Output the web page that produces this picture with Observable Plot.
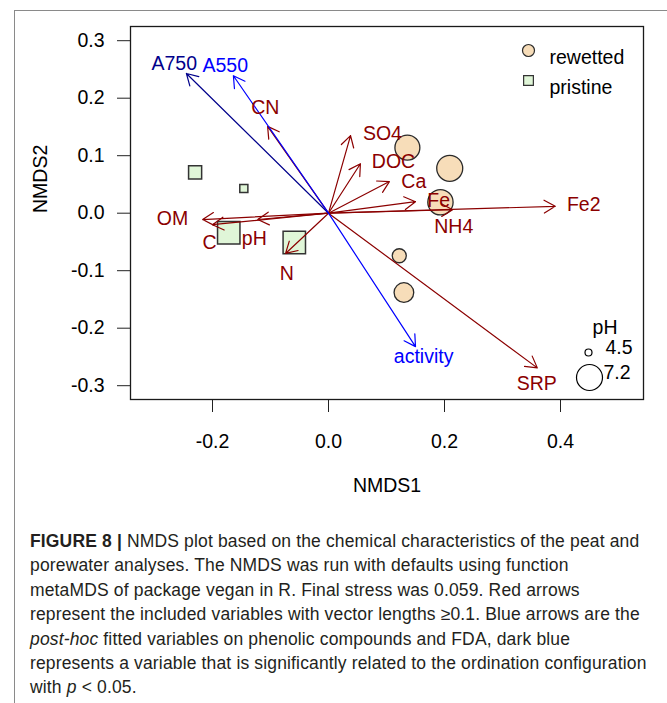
<!DOCTYPE html>
<html><head><meta charset="utf-8">
<script src="https://cdn.jsdelivr.net/npm/d3@7"></script>
<script src="https://cdn.jsdelivr.net/npm/@observablehq/plot@0.6"></script>
<style>
body{margin:0;background:#fff;font-family:"Liberation Sans",Arial,sans-serif;}
#wrap{position:relative;width:667px;height:703px;overflow:hidden;background:#fff;}
#box{position:absolute;left:14px;top:10px;width:700px;height:800px;border-left:1px solid #8a8a8a;border-top:1px solid #8a8a8a;}
#chart{position:absolute;left:0;top:0;}
#caption{position:absolute;left:30px;top:529px;font-size:17.5px;letter-spacing:0.15px;line-height:24.4px;color:#231f20;white-space:nowrap;}
</style></head>
<body><div id="wrap"><div id="box"></div><div id="chart"></div>
<div id="caption"><b>FIGURE 8 |</b> NMDS plot based on the chemical characteristics of the peat and<br>porewater analyses. The NMDS was run with defaults using function<br>metaMDS of package vegan in R. Final stress was 0.059. Red arrows<br>represent the included variables with vector lengths ≥0.1. Blue arrows are the<br><i>post-hoc</i> fitted variables on phenolic compounds and FDA, dark blue<br>represents a variable that is significantly related to the ordination configuration<br>with <i>p</i> &lt; 0.05.</div>
</div>
<script>
// Site scores (NMDS1, NMDS2), group and pH
const siteGroup = ["rewetted","rewetted","rewetted","rewetted","rewetted","pristine","pristine","pristine","pristine"];
const siteX = [0.136, 0.209, 0.193, 0.122, 0.130, -0.230, -0.146, -0.172, -0.059];
const siteY = [0.114, 0.078, 0.019, -0.074, -0.138, 0.071, 0.043, -0.034, -0.051];
const sitePH = [7.05, 7.2, 7.1, 5.5, 6.3, 5.6, 4.8, 7.1, 7.1];

// Fitted vectors
const vecName = ["CN","SO4","DOC","Ca","Fe","Fe2","NH4","OM","C","pH","N","SRP","A750","A550","activity"];
const vecType = ["chem","chem","chem","chem","chem","chem","chem","chem","chem","chem","chem","chem","sig","fit","fit"];
const vecX = [-0.105, 0.038, 0.055, 0.105, 0.150, 0.391, 0.214, -0.217, -0.200, -0.122, -0.074, 0.360, -0.245, -0.164, 0.150];
const vecY = [0.151, 0.135, 0.086, 0.055, 0.020, 0.012, 0.006, -0.011, -0.020, -0.011, -0.070, -0.269, 0.243, 0.239, -0.232];
const labX = [-0.109, 0.093, 0.112, 0.147, 0.190, 0.440, 0.216, -0.269, -0.205, -0.128, -0.072, 0.359, -0.266, -0.178, 0.164];
const labY = [0.184, 0.139, 0.090, 0.055, 0.022, 0.015, -0.023, -0.009, -0.051, -0.044, -0.105, -0.296, 0.260, 0.257, -0.249];

const xTicks = [-0.2, 0.0, 0.2, 0.4];
const yTicks = [-0.3, -0.2, -0.1, 0.0, 0.1, 0.2, 0.3];
const legendGroups = ["rewetted", "pristine"];
const legendPH = [4.5, 7.2];

const sites = siteX.map((x, i) => ({x, y: siteY[i], group: siteGroup[i], pH: sitePH[i]}));
const vectors = vecName.map((name, i) => ({name, type: vecType[i], x: vecX[i], y: vecY[i], lx: labX[i], ly: labY[i]}));
const colors = {chem: "#8B0000", sig: "#00008B", fit: "#0000FF"};
const fillRew = "#F7DDB9", fillPri = "#E0F6D8";
const fs = 19.5;

const arrowMarks = [], labelMarks = [];
for (const t of ["chem", "sig", "fit"]) {
  const dv = vectors.filter(d => d.type === t);
  arrowMarks.push(Plot.arrow(dv, {x1: () => 0, y1: () => 0, x2: "x", y2: "y", stroke: colors[t], strokeWidth: 1.2, headLength: 16, headAngle: 60}));
  labelMarks.push(Plot.text(dv, {x: "lx", y: "ly", text: "name", fill: colors[t], fontSize: fs}));
}

const chart = Plot.plot({
  width: 667, height: 520,
  marginLeft: 130, marginRight: 24, marginTop: 26, marginBottom: 121,
  style: {fontFamily: "Liberation Sans, Arial, sans-serif", fontSize: fs + "px", color: "#000", background: "transparent"},
  x: {domain: [-0.3414, 0.5431]},
  y: {domain: [-0.324, 0.3247]},
  r: {type: "linear", domain: [4.5, 7.2], range: [3.5, 13]},
  marks: [
    Plot.axisX(xTicks, {tickSize: 13, tickPadding: 22, tickFormat: d => d.toFixed(1), fontSize: fs, label: null, stroke: "#222"}),
    Plot.axisY(yTicks, {tickSize: 13, tickPadding: 13, tickFormat: d => d.toFixed(1), fontSize: fs, label: null, stroke: "#222"}),
    Plot.dot(sites.filter(d => d.group === "rewetted"), {x: "x", y: "y", r: "pH", symbol: "circle", fill: fillRew, stroke: "#2a2a2a", strokeWidth: 1.3}),
    Plot.dot(sites.filter(d => d.group === "pristine"), {x: "x", y: "y", r: "pH", symbol: "square", fill: fillPri, stroke: "#333", strokeWidth: 1.5}),
    ...arrowMarks,
    ...labelMarks,
    // legend: groups
    Plot.dot([legendGroups[0]], {frameAnchor: "top-right", dx: -115, dy: 24, r: 6, symbol: "circle", fill: fillRew, stroke: "#2a2a2a", strokeWidth: 1.2}),
    Plot.dot([legendGroups[1]], {frameAnchor: "top-right", dx: -115, dy: 54, r: 5.5, symbol: "square", fill: fillPri, stroke: "#333", strokeWidth: 1.2}),
    Plot.text([legendGroups[0]], {frameAnchor: "top-right", dx: -94, dy: 24, text: d => d, textAnchor: "start", fontSize: fs}),
    Plot.text([legendGroups[1]], {frameAnchor: "top-right", dx: -94, dy: 54, text: d => d, textAnchor: "start", fontSize: fs}),
    // legend: pH
    Plot.text(["pH"], {frameAnchor: "bottom-right", dx: -26, dy: -66, text: d => d, fontSize: fs}),
    Plot.dot([legendPH[0]], {frameAnchor: "bottom-right", dx: -55, dy: -47, r: d => d, fill: "none", stroke: "#000", strokeWidth: 1.2}),
    Plot.dot([legendPH[1]], {frameAnchor: "bottom-right", dx: -54, dy: -22, r: d => d, fill: "none", stroke: "#000", strokeWidth: 1.2}),
    Plot.text([legendPH[0]], {frameAnchor: "bottom-right", dx: -38, dy: -46, text: d => d.toFixed(1), textAnchor: "start", fontSize: fs}),
    Plot.text([legendPH[1]], {frameAnchor: "bottom-right", dx: -40, dy: -21, text: d => d.toFixed(1), textAnchor: "start", fontSize: fs}),
    // axis titles
    Plot.text(["NMDS1"], {frameAnchor: "bottom", dy: 92, text: d => d, fontSize: fs}),
    Plot.text(["NMDS2"], {frameAnchor: "left", dx: -90, rotate: -90, text: d => d, fontSize: fs}),
    Plot.frame({stroke: "#1a1a1a", strokeWidth: 1.3})
  ]
});
document.getElementById("chart").appendChild(chart);
</script>
</body></html>
